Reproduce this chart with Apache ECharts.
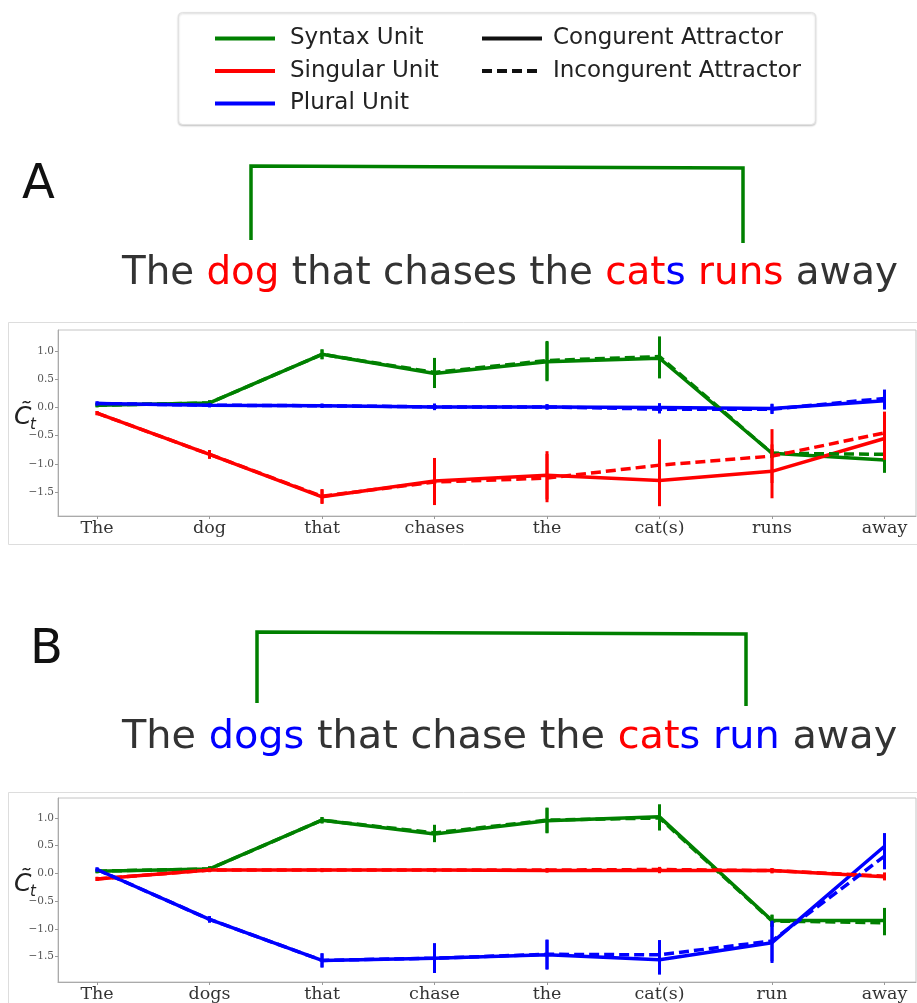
<!DOCTYPE html>
<html>
<head>
<meta charset="utf-8">
<script src="https://cdn.jsdelivr.net/npm/echarts@6/dist/echarts.min.js"></script>
<style>
  html, body { margin: 0; padding: 0; background: #fff; }
  #main { width: 917px; height: 1003px; }
</style>
</head>
<body>
<div id="main"></div>
<script>
// x轴单词
var wordsA = ['The', 'dog', 'that', 'chases', 'the', 'cat(s)', 'runs', 'away'];
var wordsB = ['The', 'dogs', 'that', 'chase', 'the', 'cat(s)', 'run', 'away'];
var yTicks = [-1.5, -1.0, -0.5, 0.0, 0.5, 1.0];

// 面板 A
var syntaxCongA = [0.04, 0.08, 0.94, 0.60, 0.81, 0.87, -0.81, -0.93];
var syntaxIncongA = [0.04, 0.08, 0.94, 0.62, 0.83, 0.90, -0.81, -0.83];
var syntaxErrA = [0.01, 0.02, 0.06, 0.23, 0.32, 0.33, 0.05, 0.2];
var singularCongA = [-0.10, -0.83, -1.58, -1.30, -1.20, -1.29, -1.13, -0.55];
var singularIncongA = [-0.10, -0.83, -1.57, -1.32, -1.25, -1.02, -0.86, -0.45];
var singularErrA = [0.01, 0.05, 0.1, 0.38, 0.4, 0.43, 0.45, 0.35];
var pluralCongA = [0.07, 0.04, 0.03, 0.01, 0.01, 0.00, -0.02, 0.12];
var pluralIncongA = [0.07, 0.04, 0.03, 0.01, 0.01, -0.03, -0.03, 0.16];
var pluralErrA = [0.01, 0.01, 0.01, 0.03, 0.02, 0.05, 0.06, 0.13];

// 面板 B
var syntaxCongB = [0.04, 0.08, 0.96, 0.71, 0.95, 1.02, -0.85, -0.85];
var syntaxIncongB = [0.04, 0.08, 0.96, 0.73, 0.96, 1.00, -0.86, -0.89];
var syntaxErrB = [0.01, 0.02, 0.03, 0.12, 0.2, 0.2, 0.08, 0.2];
var singularCongB = [-0.10, 0.06, 0.06, 0.06, 0.05, 0.05, 0.05, -0.06];
var singularIncongB = [-0.10, 0.06, 0.06, 0.06, 0.06, 0.07, 0.05, -0.05];
var singularErrB = [0.01, 0.01, 0.01, 0.01, 0.01, 0.02, 0.02, 0.04];
var pluralCongB = [0.07, -0.83, -1.57, -1.53, -1.47, -1.56, -1.25, 0.49];
var pluralIncongB = [0.07, -0.83, -1.57, -1.53, -1.46, -1.47, -1.22, 0.31];
var pluralErrB = [0.01, 0.03, 0.1, 0.24, 0.24, 0.24, 0.34, 0.21];

var GREEN = '#008000', RED = '#ff0000', BLUE = '#0000ff';

var myChart = echarts.init(document.getElementById('main'));

function pts(arr) {
    return arr.map(function (v, i) { return [i, v]; });
}

function lineSeries(name, arr, color, dashed, idx) {
    return {
        name: name,
        type: 'line',
        xAxisIndex: idx,
        yAxisIndex: idx,
        data: pts(arr),
        symbol: 'none',
        silent: true,
        z: dashed ? 3 : 2,
        lineStyle: { width: 3.5, color: color, type: dashed ? [10, 5] : 'solid' },
        itemStyle: { color: color }
    };
}

function errSeries(name, arr, err, color, idx) {
    return {
        name: name,
        type: 'custom',
        xAxisIndex: idx,
        yAxisIndex: idx,
        silent: true,
        z: 4,
        data: arr.map(function (v, i) { return [i, v, err[i]]; }),
        renderItem: function (params, api) {
            var x = api.value(0), v = api.value(1), e = api.value(2);
            var p1 = api.coord([x, v - e]);
            var p2 = api.coord([x, v + e]);
            return {
                type: 'line',
                shape: { x1: p1[0], y1: p1[1] + 1.5, x2: p2[0], y2: p2[1] - 1.5 },
                style: { stroke: color, lineWidth: 3 }
            };
        }
    };
}

function panel(idx, units) {
    var out = [];
    units.forEach(function (u) {
        out.push(lineSeries(u.name, u.cong, u.color, false, idx));
        out.push(lineSeries(u.name, u.incong, u.color, true, idx));
        out.push(errSeries(u.name, u.cong, u.err, u.color, idx));
        out.push(errSeries(u.name, u.incong, u.err, u.color, idx));
    });
    return out;
}

var series = [].concat(
    panel(0, [
        { name: 'Syntax Unit', cong: syntaxCongA, incong: syntaxIncongA, err: syntaxErrA, color: GREEN },
        { name: 'Singular Unit', cong: singularCongA, incong: singularIncongA, err: singularErrA, color: RED },
        { name: 'Plural Unit', cong: pluralCongA, incong: pluralIncongA, err: pluralErrA, color: BLUE }
    ]),
    panel(1, [
        { name: 'Syntax Unit', cong: syntaxCongB, incong: syntaxIncongB, err: syntaxErrB, color: GREEN },
        { name: 'Singular Unit', cong: singularCongB, incong: singularIncongB, err: singularErrB, color: RED },
        { name: 'Plural Unit', cong: pluralCongB, incong: pluralIncongB, err: pluralErrB, color: BLUE }
    ])
);
// 图例用的空系列
series.push({ name: 'Congurent Attractor', type: 'line', data: [], symbol: 'none', lineStyle: { width: 3.5, color: '#111' }, itemStyle: { color: '#111' } });
series.push({ name: 'Incongurent Attractor', type: 'line', data: [], symbol: 'none', lineStyle: { width: 3.5, color: '#111', type: [10, 5] }, itemStyle: { color: '#111' } });

function xAxis(idx, words) {
    return {
        type: 'value',
        gridIndex: idx,
        min: -0.347,
        max: 7.28,
        splitLine: { show: false },
        axisLine: { show: true, onZero: false, lineStyle: { color: '#aaa' } },
        axisTick: { show: true, length: 3, customValues: [0, 1, 2, 3, 4, 5, 6, 7], lineStyle: { color: '#999' } },
        axisLabel: {
            customValues: [0, 1, 2, 3, 4, 5, 6, 7],
            formatter: function (v) { return words[Math.round(v)]; },
            fontFamily: 'DejaVu Serif',
            fontSize: 17.5,
            color: '#333',
            margin: 3
        }
    };
}

function yAxis(idx, min, max) {
    return {
        type: 'value',
        gridIndex: idx,
        min: min,
        max: max,
        splitLine: { show: false },
        axisLine: { show: true, onZero: false, lineStyle: { color: '#aaa' } },
        axisTick: { show: true, length: 3, customValues: yTicks, lineStyle: { color: '#999' } },
        axisLabel: {
            customValues: yTicks,
            formatter: function (v) { return (v < 0 ? '\u2212' : '') + Math.abs(v).toFixed(1); },
            fontFamily: 'DejaVu Serif',
            fontSize: 10.5,
            color: '#555',
            margin: 4
        }
    };
}

function sentence(x, y, size, parts) {
    var rich = {};
    var text = parts.map(function (p, i) {
        rich['s' + i] = { fill: p[1], fontSize: size, fontFamily: 'DejaVu Sans' };
        return '{s' + i + '|' + p[0] + '}';
    }).join('');
    return {
        type: 'text', x: x, y: y, z: 10,
        style: { text: text, rich: rich, fontSize: size, fontFamily: 'DejaVu Sans', fill: '#333', verticalAlign: 'top' }
    };
}

function bracket(x1, y1, x2, y2, top) {
    return {
        type: 'polyline', z: 10,
        shape: { points: [[x1, y1], [x1, top], [x2, top + 2], [x2, y2]] },
        style: { stroke: GREEN, lineWidth: 3.5, fill: null }
    };
}

function ctLabel(y) {
    return [
        { type: 'text', x: 14, y: y, z: 20, style: { text: 'C\u0303', fontSize: 25, fontStyle: 'italic', fontFamily: 'DejaVu Sans', fill: '#222' } },
        { type: 'text', x: 30, y: y + 13, z: 20, style: { text: 't', fontSize: 15, fontStyle: 'italic', fontFamily: 'DejaVu Sans', fill: '#222' } }
    ];
}

var dark = '#333';
var graphic = [
    { type: 'rect', shape: { x: 8.5, y: 322.5, width: 915, height: 222 }, style: { fill: null, stroke: '#ddd', lineWidth: 1 } },
    { type: 'rect', shape: { x: 8.5, y: 792.5, width: 915, height: 230 }, style: { fill: null, stroke: '#ddd', lineWidth: 1 } },
    { type: 'rect', shape: { x: 178.5, y: 12.5, width: 637, height: 112, r: 4 }, style: { fill: '#fff', stroke: '#e2e2e2', lineWidth: 1, shadowBlur: 2, shadowColor: 'rgba(0,0,0,0.2)', shadowOffsetY: 1 }, z: -1 },
    { type: 'text', x: 22, y: 162, z: 10, style: { text: 'A', fontSize: 48, fontFamily: 'DejaVu Sans', fill: '#111' } },
    { type: 'text', x: 30, y: 627, z: 10, style: { text: 'B', fontSize: 48, fontFamily: 'DejaVu Sans', fill: '#111' } },
    bracket(251, 240, 743, 243, 166),
    bracket(257, 703, 746, 706, 632),
    sentence(122, 254, 38.8, [['The ', dark], ['dog', RED], [' that chases the ', dark], ['cat', RED], ['s', BLUE], [' ', dark], ['runs', RED], [' away', dark]]),
    sentence(122, 718, 39.8, [['The ', dark], ['dogs', BLUE], [' that chase the ', dark], ['cat', RED], ['s', BLUE], [' ', dark], ['run', BLUE], [' away', dark]])
].concat(ctLabel(405), ctLabel(872));

var legendText = { fontSize: 23, fontFamily: 'DejaVu Sans', color: '#222' };

var option = {
    animation: false,
    backgroundColor: '#fff',
    grid: [
        { left: 58, top: 330, width: 858, height: 186, show: true, borderColor: '#c4c4c4', borderWidth: 1, backgroundColor: 'transparent' },
        { left: 58, top: 798, width: 858, height: 186, show: true, borderColor: '#c4c4c4', borderWidth: 1, backgroundColor: 'transparent' }
    ],
    xAxis: [xAxis(0, wordsA), xAxis(1, wordsB)],
    yAxis: [yAxis(0, -1.92, 1.37), yAxis(1, -1.96, 1.36)],
    legend: [
        {
            data: ['Syntax Unit', 'Singular Unit', 'Plural Unit'],
            orient: 'vertical', left: 208, top: 22, itemWidth: 60, itemHeight: 14, itemGap: 9.5,
            selectedMode: false,
            itemStyle: { opacity: 0 },
            lineStyle: { width: 4 },
            textStyle: Object.assign({ padding: [0, 0, 0, 10] }, legendText)
        },
        {
            data: ['Congurent Attractor', 'Incongurent Attractor'],
            orient: 'vertical', left: 475, top: 22, itemWidth: 60, itemHeight: 14, itemGap: 9.5,
            selectedMode: false,
            itemStyle: { opacity: 0 },
            lineStyle: { width: 4 },
            textStyle: Object.assign({ padding: [0, 0, 0, 6] }, legendText)
        }
    ],
    graphic: graphic,
    series: series
};
myChart.setOption(option);
</script>
</body>
</html>
